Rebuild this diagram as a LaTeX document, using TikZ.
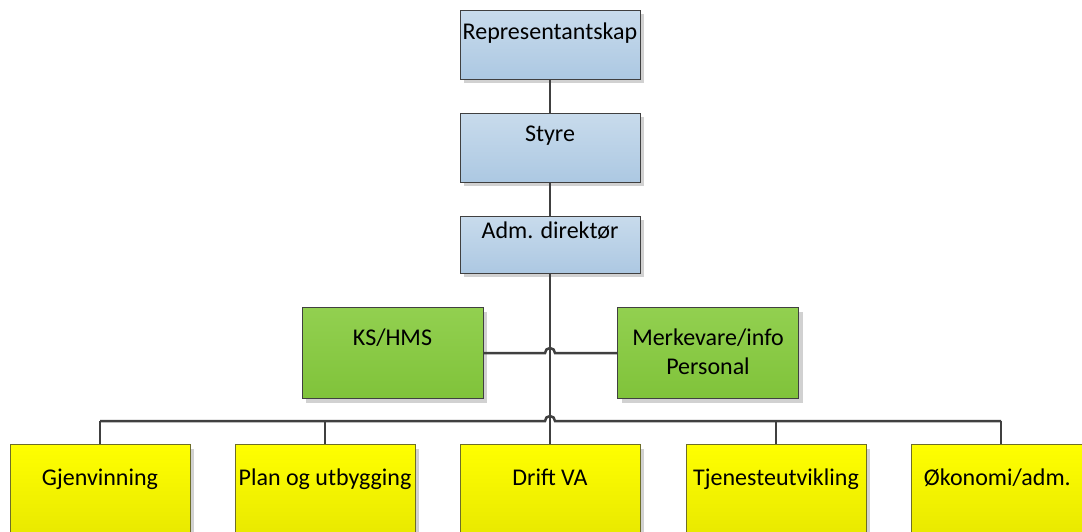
\documentclass[tikz,border=0pt]{standalone}
\usepackage{fontspec}
\setmainfont{Carlito}
\usetikzlibrary{calc,positioning,shadows}

\definecolor{cBlueTop}{RGB}{200,219,236}
\definecolor{cBlueBot}{RGB}{172,200,226}
\definecolor{cGreenTop}{RGB}{146,208,80}
\definecolor{cGreenBot}{RGB}{128,195,58}
\definecolor{cYellowTop}{RGB}{255,255,0}
\definecolor{cYellowBot}{RGB}{230,230,0}
\definecolor{cEdge}{RGB}{64,64,64}
\definecolor{cYellowEdge}{RGB}{110,110,40}

\tikzset{
    orgbox/.style={draw=cEdge, line width=1pt, anchor=north, inner xsep=2pt, inner ysep=0pt,
        minimum width=180pt, align=center,
        font=\fontsize{24}{29}\selectfont,
        general shadow={fill=black!18, shadow xshift=4pt, shadow yshift=-4pt}},
    bluebox/.style={orgbox, top color=cBlueTop, bottom color=cBlueBot},
    greenbox/.style={orgbox, top color=cGreenTop, bottom color=cGreenBot, minimum width=181pt},
    yellowbox/.style={orgbox, draw=cYellowEdge, top color=cYellowTop, bottom color=cYellowBot},
    link/.style={draw=cEdge, line width=2.5pt}
}

\begin{document}
\begin{tikzpicture}[x=1pt,y=1pt]
\useasboundingbox (0,0) rectangle (1082,531);
\clip (0,0) rectangle (1082,531);

% top of the tree
\node[bluebox, text height=29pt, text depth=40pt] (nRep) at (550,521) {Representantskap};
\node[bluebox, text height=28pt, text depth=41pt] (nStyre) at (550,418) {Styre};
\node[bluebox, text height=22pt, text depth=35pt] (nAdm) at (550,315) {Adm. direktør};

% staff
\node[greenbox, text height=38pt, text depth=53pt] (nKs) at (392.5,224) {KS/HMS};
\node[greenbox, text height=67pt, text depth=24pt] (nMerk) at (708,224) {Merkevare/info\\Personal};

\draw[link] (nRep) -- (nStyre);
\draw[link] (nStyre) -- (nAdm);

\coordinate (cStaffL) at (545,178);
\coordinate (cBusL) at (545,110);
\draw[link] (nKs.east |- cStaffL) -- (cStaffL) arc[start angle=180, end angle=0, radius=5pt] -- (nMerk.west |- cStaffL);

% departments
\foreach \n/\x/\t in
{nGjen/100/Gjenvinning,
    nPlan/325/Plan og utbygging,
    nDrift/550/Drift VA,
    nTjen/776/Tjenesteutvikling,
    nOko/1001/{Økonomi/adm.}
}
{
    \node[yellowbox, text height=41pt, text depth=60pt] (\n) at (\x,87) {\t};
    \coordinate (c\n) at (\x,110);
};

\draw[link] (nAdm) -- (nDrift);
\draw[link] (cnGjen) -- (cBusL) arc[start angle=180, end angle=0, radius=5pt] -- (cnOko);
\foreach \n in {nGjen,nPlan,nTjen,nOko}
    \draw[link] (c\n) -- (\n);

\end{tikzpicture}
\end{document}
